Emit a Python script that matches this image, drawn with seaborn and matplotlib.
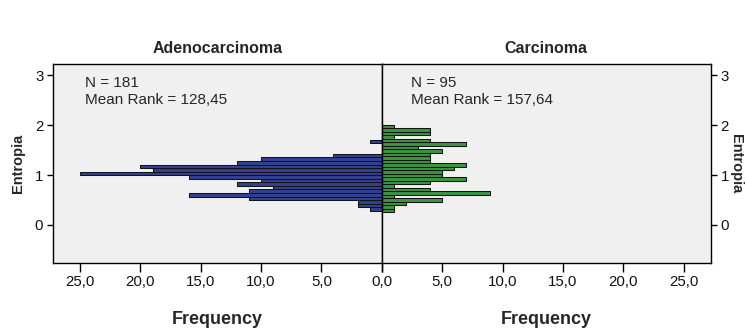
import numpy as np
import pandas as pd
import matplotlib
matplotlib.use("Agg")
import matplotlib.pyplot as plt
import seaborn as sns

# ---- data -------------------------------------------------------------
groups = ["Adenocarcinoma", "Carcinoma"]
n_obs = [181, 95]
mean_rank = ["128,45", "157,64"]

# frequency per Entropia bin, lowest bin first
adeno_counts = [1, 2, 2, 11, 16, 11, 9, 12, 10, 16, 25, 19, 20, 12, 10, 4, 0, 0, 0, 1]
carci_counts = [1, 1, 2, 5, 1, 9, 4, 1, 4, 7, 5, 5, 6, 7, 4, 4, 4, 5, 3, 7, 4, 1, 4, 4, 1]
# Entropia span covered by each group's bins
adeno_span = (0.286, 1.706)
carci_span = (0.26, 2.006)

freq_ticks = [0, 5, 10, 15, 20, 25]
entropy_ticks = [0, 1, 2, 3]

# ---- styling ----------------------------------------------------------
sns.set_style("white")
plt.rcParams["font.family"] = ["Liberation Sans", "DejaVu Sans"]

W, H = 746, 334
fig = plt.figure(figsize=(W / 100, H / 100), dpi=100)
fig.patch.set_facecolor("white")

x0, xc, x1 = 53, 381.7, 711
y_top, y_bot = 64, 263
axL = fig.add_axes([x0 / W, 1 - y_bot / H, (xc - x0) / W, (y_bot - y_top) / H])
axR = fig.add_axes([xc / W, 1 - y_bot / H, (x1 - xc) / W, (y_bot - y_top) / H])

colors = ["#33408f", "#3b9441"]
fmax = 27.25


def hist_frame(counts, span):
    edges = np.linspace(span[0], span[1], len(counts) + 1)
    centers = (edges[:-1] + edges[1:]) / 2
    return pd.DataFrame({"Entropia": centers, "Frequency": counts})


for ax, counts, span, col, name, n, mr, side in [
    (axL, adeno_counts, adeno_span, colors[0], groups[0], n_obs[0], mean_rank[0], "left"),
    (axR, carci_counts, carci_span, colors[1], groups[1], n_obs[1], mean_rank[1], "right"),
]:
    df = hist_frame(counts, span)
    sns.histplot(data=df, y="Entropia", weights="Frequency", bins=len(counts),
                 binrange=span, color=col, alpha=1, edgecolor="#141414",
                 linewidth=0.75, ax=ax)
    ax.set_facecolor("#f0f0f0")
    ax.set_ylim(-0.76, 3.22)
    if side == "left":
        ax.set_xlim(fmax, 0)
    else:
        ax.set_xlim(0, fmax)
    for sp in ax.spines.values():
        sp.set_visible(True)
        sp.set_color("black")
        sp.set_linewidth(1.0)

    ax.set_xticks(freq_ticks)
    labels = [f"{v:.1f}".replace(".", ",") for v in freq_ticks]
    if side == "right":
        labels[0] = ""
    ax.set_xticklabels(labels)
    ax.set_yticks(entropy_ticks)
    ax.set_yticklabels([str(v) for v in entropy_ticks])
    ax.tick_params(axis="x", direction="out", length=6.5, width=1,
                   color="black", labelsize=10.8, labelcolor="#111111", pad=2.5)
    ax.tick_params(axis="y", direction="out", length=4.5, width=1,
                   color="black", labelsize=10.8, labelcolor="#111111", pad=2.5)
    if side == "left":
        ax.yaxis.set_ticks_position("left")
        ax.yaxis.set_label_position("left")
        ax.set_ylabel("Entropia", fontsize=10.5, fontweight="bold", va="center")
        ax.yaxis.set_label_coords((18 - x0) / (xc - x0), 0.5)
    else:
        ax.yaxis.set_ticks_position("right")
        ax.yaxis.set_label_position("right")
        ax.set_ylabel("Entropia", fontsize=10.5, fontweight="bold",
                      rotation=270, va="center")
        ax.yaxis.set_label_coords((736 - xc) / (x1 - xc), 0.5)
    ax.xaxis.set_ticks_position("bottom")
    ax.set_xlabel("Frequency", fontsize=13, fontweight="bold", va="center")
    ax.xaxis.set_label_coords(0.5, -(319 - y_bot) / (y_bot - y_top))
    ax.set_title(name, fontsize=11.5, fontweight="bold", pad=8)

    tx = (85 - x0) / (xc - x0) if side == "left" else (411 - xc) / (x1 - xc)
    ax.text(tx, 1 - (83 - y_top) / (y_bot - y_top), f"N = {n}",
            transform=ax.transAxes, fontsize=11, va="center", ha="left")
    ax.text(tx, 1 - (100 - y_top) / (y_bot - y_top), f"Mean Rank = {mr}",
            transform=ax.transAxes, fontsize=11, va="center", ha="left")

fig.savefig("out.png", dpi=100, facecolor="white")
